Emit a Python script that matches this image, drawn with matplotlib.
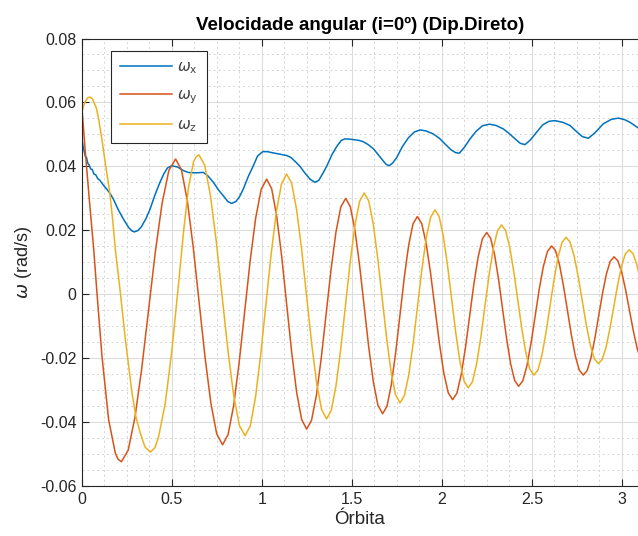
import matplotlib
matplotlib.use("Agg")
import matplotlib.pyplot as plt
from matplotlib.ticker import MultipleLocator

plt.rcParams["font.family"] = ["Liberation Sans", "DejaVu Sans"]
plt.rcParams["mathtext.fontset"] = "dejavusans"

# ----- values (orbit, rad/s) -----
wx_t = [0.000, 0.006, 0.012, 0.018, 0.025, 0.032, 0.040, 0.048, 0.057, 0.066,
        0.076, 0.087, 0.100, 0.115, 0.137, 0.155, 0.174, 0.200, 0.230, 0.260,
        0.280, 0.291, 0.310, 0.330, 0.355, 0.378, 0.405, 0.433, 0.455, 0.475,
        0.498, 0.530, 0.563, 0.590, 0.609, 0.640, 0.674, 0.700, 0.730, 0.760,
        0.785, 0.810, 0.831, 0.855, 0.875, 0.896, 0.925, 0.952, 0.975, 1.004,
        1.030, 1.063, 1.100, 1.137, 1.160, 1.185, 1.211, 1.240, 1.267, 1.294,
        1.315, 1.340, 1.359, 1.390, 1.415, 1.440, 1.461, 1.490, 1.517, 1.540,
        1.563, 1.590, 1.619, 1.645, 1.665, 1.690, 1.707, 1.725, 1.748, 1.780,
        1.813, 1.845, 1.878, 1.910, 1.950, 1.985, 2.017, 2.050, 2.075, 2.096,
        2.125, 2.156, 2.190, 2.225, 2.263, 2.300, 2.341, 2.375, 2.406, 2.435,
        2.461, 2.490, 2.526, 2.560, 2.595, 2.628, 2.670, 2.711, 2.745, 2.780,
        2.813, 2.850, 2.896, 2.940, 2.980, 3.015, 3.044, 3.070, 3.090]
wx_v = [0.0486, 0.0462, 0.0448, 0.0432, 0.0428, 0.0410, 0.0404, 0.0392, 0.0390, 0.0376,
        0.0374, 0.0362, 0.0356, 0.0344, 0.0329, 0.0316, 0.0298, 0.0266, 0.0235, 0.0208,
        0.0197, 0.0195, 0.0199, 0.0211, 0.0236, 0.0266, 0.0310, 0.0350, 0.0377, 0.0395,
        0.0402, 0.0398, 0.0387, 0.0381, 0.0380, 0.0380, 0.0381, 0.0370, 0.0350, 0.0325,
        0.0308, 0.0290, 0.0284, 0.0290, 0.0305, 0.0329, 0.0370, 0.0402, 0.0432, 0.0446,
        0.0446, 0.0442, 0.0438, 0.0434, 0.0428, 0.0415, 0.0400, 0.0378, 0.0360, 0.0350,
        0.0356, 0.0380, 0.0400, 0.0438, 0.0462, 0.0481, 0.0486, 0.0485, 0.0483, 0.0481,
        0.0477, 0.0468, 0.0455, 0.0437, 0.0423, 0.0406, 0.0402, 0.0410, 0.0427, 0.0462,
        0.0489, 0.0507, 0.0514, 0.0511, 0.0502, 0.0488, 0.0470, 0.0452, 0.0443, 0.0441,
        0.0460, 0.0486, 0.0510, 0.0527, 0.0532, 0.0528, 0.0517, 0.0502, 0.0486, 0.0472,
        0.0468, 0.0482, 0.0507, 0.0530, 0.0541, 0.0543, 0.0538, 0.0528, 0.0510, 0.0493,
        0.0488, 0.0505, 0.0533, 0.0547, 0.0551, 0.0546, 0.0538, 0.0528, 0.0520]

wy_t = [0.000, 0.017, 0.040, 0.065, 0.083, 0.111, 0.148, 0.185, 0.200, 0.219,
        0.2566, 0.2943, 0.3319, 0.3695, 0.4071, 0.4448, 0.4824,
        0.520, 0.5526, 0.5853, 0.6179, 0.6505, 0.6831, 0.7158, 0.7484,
        0.781, 0.8116, 0.8423, 0.8729, 0.9035, 0.9341, 0.9648, 0.9954,
        1.026, 1.0538, 1.0815, 1.1093, 1.137, 1.1648, 1.1925, 1.2203,
        1.248, 1.2751, 1.3023, 1.3294, 1.3565, 1.3836, 1.4108, 1.4379,
        1.465, 1.4906, 1.5163, 1.5419, 1.5675, 1.5931, 1.6188, 1.6444,
        1.670, 1.6941, 1.7183, 1.7424, 1.7665, 1.7906, 1.8148, 1.8389,
        1.863, 1.8875, 1.912, 1.9365, 1.961, 1.9855, 2.010, 2.0345,
        2.059, 2.0826, 2.1063, 2.1299, 2.1535, 2.1771, 2.2008, 2.2244,
        2.248, 2.2703, 2.2925, 2.3148, 2.337, 2.3593, 2.3815, 2.4038,
        2.426, 2.4489, 2.4718, 2.4946, 2.5175, 2.5404, 2.5633, 2.5861,
        2.609, 2.631, 2.653, 2.675, 2.697, 2.719, 2.741, 2.763,
        2.785, 2.8064, 2.8278, 2.8491, 2.8705, 2.8919, 2.9133, 2.9346,
        2.956, 2.9775, 2.999, 3.0205, 3.042, 3.0635, 3.085, 3.1065]
wy_v = [0.0580, 0.0455, 0.0300, 0.0141, 0.0005, -0.0194, -0.0393, -0.0497, -0.0516, -0.0524,
        -0.0488, -0.0385, -0.0232, -0.0051, 0.0131, 0.0284, 0.0387,
        0.0423, 0.0389, 0.0292, 0.0147, -0.0024, -0.0195, -0.0340, -0.0437,
        -0.0471, -0.0439, -0.0349, -0.0215, -0.0056, 0.0104, 0.0238, 0.0328,
        0.0360, 0.0330, 0.0245, 0.0119, -0.0031, -0.0181, -0.0307, -0.0392,
        -0.0422, -0.0395, -0.0316, -0.0199, -0.0061, 0.0077, 0.0194, 0.0273,
        0.0300, 0.0274, 0.0201, 0.0092, -0.0037, -0.0166, -0.0275, -0.0348,
        -0.0374, -0.0351, -0.0284, -0.0184, -0.0066, 0.0053, 0.0153, 0.0220,
        0.0243, 0.0221, 0.0159, 0.0066, -0.0044, -0.0153, -0.0246, -0.0308,
        -0.0330, -0.0310, -0.0253, -0.0169, -0.0069, 0.0032, 0.0116, 0.0173,
        0.0193, 0.0175, 0.0123, 0.0045, -0.0048, -0.0140, -0.0218, -0.0270,
        -0.0288, -0.0271, -0.0224, -0.0153, -0.0069, 0.0016, 0.0087, 0.0134,
        0.0151, 0.0136, 0.0092, 0.0026, -0.0051, -0.0128, -0.0194, -0.0238,
        -0.0253, -0.0239, -0.0199, -0.0139, -0.0068, 0.0003, 0.0063, 0.0103,
        0.0117, 0.0104, 0.0068, 0.0013, -0.0052, -0.0116, -0.0171, -0.0207]

wz_t = [0.000, 0.010, 0.020, 0.031, 0.043, 0.057, 0.070, 0.080, 0.092, 0.104,
        0.115, 0.126, 0.140, 0.154, 0.170, 0.185, 0.213, 0.241, 0.278, 0.300,
        0.324, 0.350, 0.380, 0.405, 0.426, 0.463, 0.500, 0.537, 0.565, 0.592,
        0.620, 0.636,
        0.650, 0.682, 0.714, 0.746, 0.778, 0.810, 0.842, 0.874,
        0.906, 0.9349, 0.9638, 0.9926, 1.0215, 1.0504, 1.0793, 1.1081,
        1.137, 1.1648, 1.1925, 1.2203, 1.248, 1.2758, 1.3035, 1.3313,
        1.359, 1.3851, 1.4113, 1.4374, 1.4635, 1.4896, 1.5158, 1.5419,
        1.568, 1.5929, 1.6178, 1.6426, 1.6675, 1.6924, 1.7173, 1.7421,
        1.767, 1.7913, 1.8155, 1.8398, 1.864, 1.8883, 1.9125, 1.9368,
        1.961, 1.9841, 2.0073, 2.0304, 2.0535, 2.0766, 2.0998, 2.1229,
        2.146, 2.1691, 2.1923, 2.2154, 2.2385, 2.2616, 2.2848, 2.3079,
        2.331, 2.3535, 2.376, 2.3985, 2.421, 2.4435, 2.466, 2.4885,
        2.511, 2.5333, 2.5555, 2.5778, 2.600, 2.6223, 2.6445, 2.6668,
        2.689, 2.7115, 2.734, 2.7565, 2.779, 2.8015, 2.824, 2.8465,
        2.869, 2.8904, 2.9118, 2.9331, 2.9545, 2.9759, 2.9973, 3.0186,
        3.040, 3.0614, 3.0828, 3.104]
wz_v = [0.0570, 0.0592, 0.0605, 0.0614, 0.0617, 0.0612, 0.0595, 0.0582, 0.0550, 0.0507,
        0.0468, 0.0423, 0.0370, 0.0319, 0.0235, 0.0141, 0.0005, -0.0142, -0.0310, -0.0385,
        -0.0435, -0.0478, -0.0494, -0.0480, -0.0445, -0.0340, -0.0173, 0.0036, 0.0200, 0.0335,
        0.0415, 0.0431,
        0.0436, 0.0403, 0.0307, 0.0165, -0.0004, -0.0172, -0.0314, -0.0410,
        -0.0443, -0.0412, -0.0323, -0.0190, -0.0034, 0.0123, 0.0256, 0.0345,
        0.0376, 0.0347, 0.0264, 0.0140, -0.0007, -0.0154, -0.0278, -0.0361,
        -0.0390, -0.0363, -0.0286, -0.0172, -0.0037, 0.0099, 0.0213, 0.0290,
        0.0317, 0.0292, 0.0221, 0.0114, -0.0012, -0.0137, -0.0244, -0.0315,
        -0.0340, -0.0317, -0.0252, -0.0154, -0.0038, 0.0078, 0.0176, 0.0241,
        0.0264, 0.0243, 0.0182, 0.0092, -0.0015, -0.0121, -0.0211, -0.0272,
        -0.0293, -0.0274, -0.0218, -0.0136, -0.0038, 0.0060, 0.0142, 0.0198,
        0.0217, 0.0199, 0.0148, 0.0072, -0.0018, -0.0108, -0.0184, -0.0235,
        -0.0253, -0.0237, -0.0190, -0.0120, -0.0038, 0.0045, 0.0115, 0.0162,
        0.0178, 0.0163, 0.0120, 0.0056, -0.0020, -0.0095, -0.0159, -0.0202,
        -0.0217, -0.0204, -0.0165, -0.0107, -0.0039, 0.0029, 0.0087, 0.0126,
        0.0139, 0.0127, 0.0092, 0.0041]

labels = [r"$\omega_{\rm x}$", r"$\omega_{\rm y}$", r"$\omega_{\rm z}$"]
colors = ["#0072BD", "#D95319", "#EDB120"]

x_ticks = [0, 0.5, 1, 1.5, 2, 2.5, 3]
y_ticks = [-0.06, -0.04, -0.02, 0, 0.02, 0.04, 0.06, 0.08]
y_ticklabels = ["-0.06", "-0.04", "-0.02", "0", "0.02", "0.04", "0.06", "0.08"]


def main() -> None:
    fig = plt.figure(figsize=(6.38, 5.36), dpi=100)
    W, H = 638, 536
    left, right, top, bottom = 82, 638, 38.5, 486
    ax = fig.add_axes([left / W, 1 - bottom / H, (right - left) / W, (bottom - top) / H])

    for t, v, lab, c in zip([wx_t, wy_t, wz_t], [wx_v, wy_v, wz_v], labels, colors):
        ax.plot(t, v, color=c, lw=1.1, label=lab)

    ax.set_xlim(0, 3.089)
    ax.set_ylim(-0.06, 0.08)
    ax.set_xticks(x_ticks)
    ax.set_xticklabels([f"{x:g}" for x in x_ticks])
    ax.set_yticks(y_ticks)
    ax.set_yticklabels(y_ticklabels)
    ax.xaxis.set_minor_locator(MultipleLocator(0.125))
    ax.yaxis.set_minor_locator(MultipleLocator(0.005))

    ax.grid(True, which="major", color="#dcdcdc", lw=0.8, ls="-")
    ax.grid(True, which="minor", color="#d4d4d4", lw=0.7, ls=(0, (2, 3)))
    ax.set_axisbelow(True)

    ax.tick_params(which="major", direction="in", length=5, width=0.8,
                   top=True, right=False, labelsize=11.5, colors="#262626", pad=4)
    ax.tick_params(which="minor", length=0)
    for s in ("left", "bottom", "top"):
        ax.spines[s].set_color("#262626")
        ax.spines[s].set_linewidth(0.8)
    ax.spines["right"].set_visible(False)

    ax.set_title("Velocidade angular (i=0º) (Dip.Direto)", fontsize=13.5,
                 fontweight="bold", pad=6)
    ax.set_xlabel("Órbita", fontsize=13.5, color="#262626", labelpad=3)
    ax.set_ylabel(r"$\omega$ (rad/s)", fontsize=13, color="#262626", labelpad=4)

    leg = ax.legend(loc="upper left", bbox_to_anchor=(0.052, 0.972),
                    borderaxespad=0, fontsize=11, handlelength=3.4,
                    labelspacing=0.8, fancybox=False, framealpha=1,
                    edgecolor="#262626", borderpad=0.6, handletextpad=0.3)
    leg.get_frame().set_linewidth(0.8)
    for txt in leg.get_texts():
        txt.set_color("#444444")

    fig.savefig("out.png", dpi=100)
    plt.close(fig)


if __name__ == "__main__":
    main()
